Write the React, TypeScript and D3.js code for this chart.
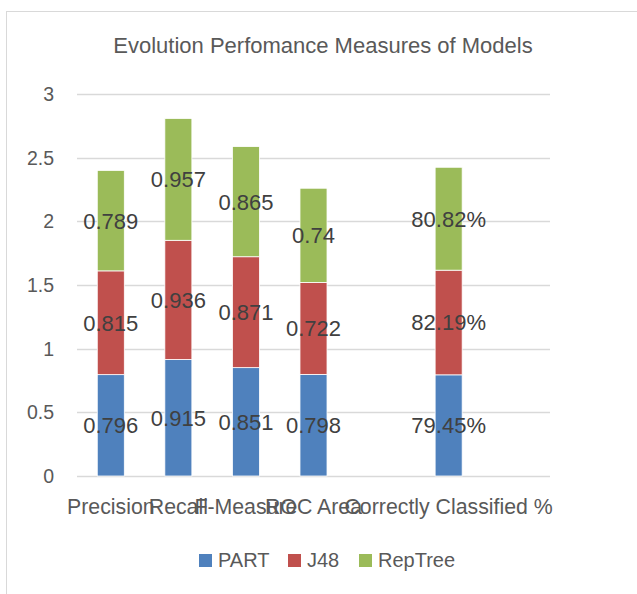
import * as d3 from 'd3';

// categories (two empty slots as in the source sheet)
const categories = ['Precision', 'Recall', 'F-Measure', 'ROC Area', '', 'Correctly Classified %', ''];
const seriesNames = ['PART', 'J48', 'RepTree'];
const part = [0.796, 0.915, 0.851, 0.798, null, 0.7945, null];
const j48 = [0.815, 0.936, 0.871, 0.722, null, 0.8219, null];
const repTree = [0.789, 0.957, 0.865, 0.74, null, 0.8082, null];
const yTicks = [0, 0.5, 1, 1.5, 2, 2.5, 3];
const percentCategory = 'Correctly Classified %';

const colors = ['#4f81bd', '#c0504d', '#9bbb59'];
const font = '"Liberation Sans", Arial, sans-serif';

export default function App() {
  const width = 637;
  const height = 594;
  const plot = { left: 77, right: 550, top: 94, bottom: 476 };

  const rows = categories.map((c, i) => ({
    key: String(i),
    cat: c,
    PART: part[i] ?? 0,
    J48: j48[i] ?? 0,
    RepTree: repTree[i] ?? 0,
    empty: part[i] == null,
  }));

  const x = d3.scaleBand<string>()
    .domain(rows.map((r) => r.key))
    .range([plot.left, plot.right])
    .paddingInner(0.6)
    .paddingOuter(0.3);
  const y = d3.scaleLinear().domain([0, 3]).range([plot.bottom, plot.top]);

  const stacked = d3.stack<any>().keys(seriesNames)(rows);

  const numFmt = (v: number) => String(v);
  const pctFmt = d3.format('.2%');

  // legend layout
  const legendX = [199, 288, 359];

  return (
    <svg width={width} height={height} style={{ position: 'absolute', left: 0, top: 0, background: '#fff' }}>
      <rect x={6.5} y={11.5} width={700} height={700} fill="#fff" stroke="#d9d9d9" />

      <text x={323} y={53} textAnchor="middle" fontFamily={font} fontSize={22} fill="#595959">
        Evolution Perfomance Measures of Models
      </text>

      {/* grid + y ticks */}
      {yTicks.map((t) => (
        <g key={t}>
          <line x1={plot.left} x2={plot.right} y1={Math.round(y(t)) + 0.5} y2={Math.round(y(t)) + 0.5}
            stroke="#d9d9d9" strokeWidth={1.3} />
          <text x={54} y={y(t)} dy="0.36em" textAnchor="end" fontFamily={font} fontSize={19.5} fill="#595959">
            {t}
          </text>
        </g>
      ))}

      {/* bars */}
      {stacked.map((s, si) => (
        <g key={s.key} fill={colors[si]}>
          {s.map((d, i) => rows[i].empty ? null : (
            <rect key={i} x={x(rows[i].key)} width={x.bandwidth()}
              y={y(d[1])} height={y(d[0]) - y(d[1])} stroke="#fff" strokeWidth={0.8} />
          ))}
        </g>
      ))}

      {/* data labels */}
      {stacked.map((s) => (
        <g key={'l' + s.key}>
          {s.map((d, i) => {
            if (rows[i].empty) return null;
            const v = (d.data as any)[s.key] as number;
            const label = rows[i].cat === percentCategory ? pctFmt(v) : numFmt(v);
            return (
              <text key={i} x={x(rows[i].key)! + x.bandwidth() / 2} y={y((d[0] + d[1]) / 2)} dy="0.36em"
                textAnchor="middle" fontFamily={font} fontSize={22} fill="#404040">
                {label}
              </text>
            );
          })}
        </g>
      ))}

      {/* x labels */}
      {rows.map((r) => (
        <text key={'x' + r.key} x={x(r.key)! + x.bandwidth() / 2} y={514} textAnchor="middle"
          fontFamily={font} fontSize={21.3} fill="#595959">
          {r.cat}
        </text>
      ))}

      {/* legend */}
      {seriesNames.map((n, i) => (
        <g key={n}>
          <rect x={legendX[i]} y={554} width={13} height={13} fill={colors[i]} />
          <text x={legendX[i] + 19} y={567} fontFamily={font} fontSize={20} fill="#595959">{n}</text>
        </g>
      ))}
    </svg>
  );
}
